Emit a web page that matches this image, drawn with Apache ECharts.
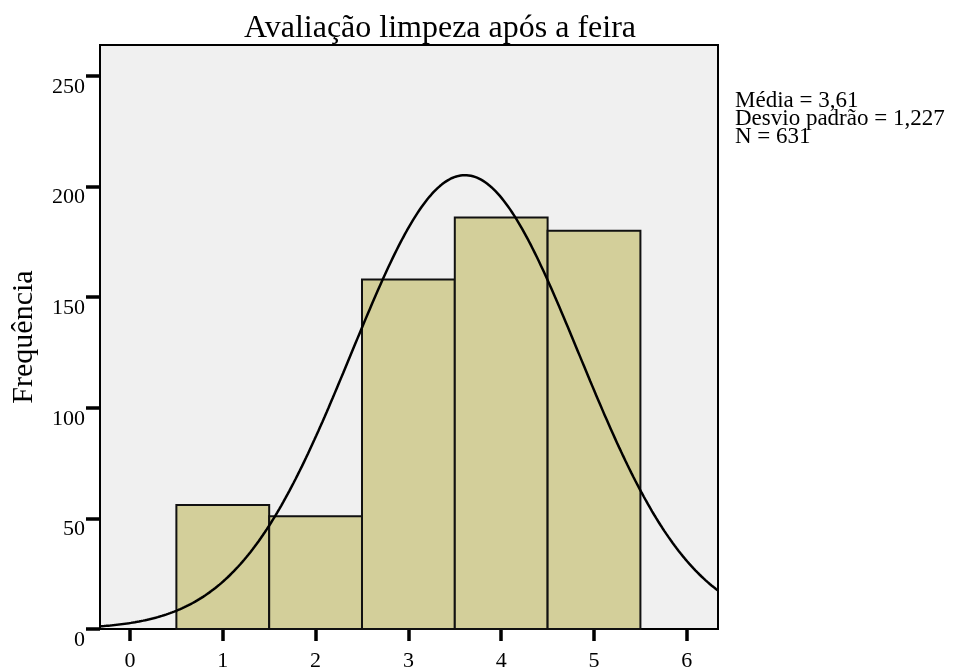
<!DOCTYPE html>
<html><head><meta charset="utf-8">
<script src="https://cdn.jsdelivr.net/npm/echarts@6/dist/echarts.min.js"></script>
<style>html,body{margin:0;padding:0;background:#fff}#c{width:955px;height:669px}</style>
</head><body><div id="c"></div>
<script>
const categories = [1, 2, 3, 4, 5];
const frequencies = [56, 51, 158, 186, 180];
const xTicks = [0, 1, 2, 3, 4, 5, 6];
const yTicks = [0, 50, 100, 150, 200, 250];
const mean = 3.61;
const sd = 1.227;
const n = 631;
const titleText = 'Avaliação limpeza após a feira';
const statsLines = ['Média = 3,61', 'Desvio padrão = 1,227', 'N = 631'];

const xMin = -0.323, xMax = 6.336;
// Fitted normal curve from stated mean / sd / N (bin width 1)
const curve = [];
for (let i = 0; i <= 300; i++) {
  const x = xMin + (xMax - xMin) * i / 300;
  const y = n / (sd * Math.sqrt(2 * Math.PI)) * Math.exp(-0.5 * Math.pow((x - mean) / sd, 2));
  curve.push([x, y]);
}

const font = '"Liberation Serif", "Times New Roman", serif';
const chart = echarts.init(document.getElementById('c'), null, {renderer: 'canvas'});
chart.setOption({
  animation: false,
  backgroundColor: '#ffffff',
  title: {
    text: titleText, left: 435, top: 8, textAlign: 'center',
    textStyle: {fontFamily: font, fontSize: 32, fontWeight: 'normal', color: '#000'}
  },
  grid: {left: 100, right: 237, top: 45, bottom: 40, show: true, containLabel: false,
    outerBoundsMode: 'none',
    backgroundColor: '#f0f0f0', borderColor: '#000', borderWidth: 2},
  xAxis: {
    type: 'value', min: xMin, max: xMax,
    axisLine: {show: true, onZero: false, lineStyle: {color: '#000', width: 2}},
    axisTick: {show: true, length: 12, lineStyle: {color: '#000', width: 3.5},
      customValues: xTicks},
    axisLabel: {customValues: xTicks, fontFamily: font, fontSize: 22, color: '#000', margin: 21,
      showMinLabel: true, showMaxLabel: true},
    splitLine: {show: false}
  },
  yAxis: {
    type: 'value', min: 0, max: 264,
    name: 'Frequência', nameLocation: 'middle', nameGap: 61, nameRotate: 90,
    nameTextStyle: {fontFamily: font, fontSize: 30, color: '#000'},
    axisLine: {show: true, onZero: false, lineStyle: {color: '#000', width: 2}},
    axisTick: {show: true, length: 14, lineStyle: {color: '#000', width: 3.5}, customValues: yTicks},
    axisLabel: {customValues: yTicks, fontFamily: font, fontSize: 22, color: '#000', margin: 15,
      verticalAlign: 'top'},
    splitLine: {show: false}
  },
  series: [
    {
      type: 'custom',
      data: categories.map((c, i) => [c, frequencies[i]]),
      renderItem: function (params, api) {
        const x = api.value(0), v = api.value(1);
        const p0 = api.coord([x - 0.5, v]);
        const p1 = api.coord([x + 0.5, 0]);
        return {
          type: 'rect',
          shape: {x: p0[0], y: p0[1], width: p1[0] - p0[0], height: p1[1] - p0[1]},
          style: {fill: '#d3cf9a', stroke: '#111', lineWidth: 2}
        };
      },
      z: 2
    },
    {
      type: 'line', data: curve, showSymbol: false, symbol: 'none', smooth: false,
      lineStyle: {color: '#000', width: 2.5}, clip: true, z: 3
    }
  ],
  graphic: [{
    type: 'text', left: 735, top: 89,
    style: {text: statsLines.join('\n'), fontFamily: font, fontSize: 23, lineHeight: 18, fill: '#000'}
  }]
});
</script></body></html>
